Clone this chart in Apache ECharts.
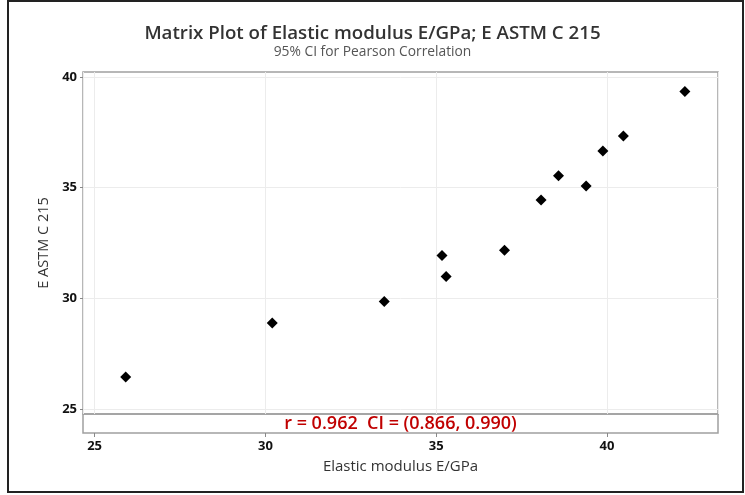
<!DOCTYPE html>
<html>
<head>
<meta charset="utf-8">
<script src="https://cdn.jsdelivr.net/npm/echarts@6/dist/echarts.min.js"></script>
<style>
html,body{margin:0;padding:0;background:#fff;}
#c{width:745px;height:495px;}
</style>
</head>
<body>
<div id="c"></div>
<script>
const titleText = 'Matrix Plot of Elastic modulus E/GPa; E ASTM C 215';
const subtitleText = '95% CI for Pearson Correlation';
const xName = 'Elastic modulus E/GPa';
const yName = 'E ASTM C 215';
const corrText = 'r = 0.962  CI = (0.866, 0.990)';
const elasticModulus = [25.91, 30.20, 33.48, 35.17, 35.29, 37.00, 38.07, 38.58, 39.39, 39.88, 40.48, 42.28];
const eAstm = [26.44, 28.88, 29.85, 31.93, 30.98, 32.17, 34.44, 35.54, 35.08, 36.66, 37.34, 39.35];
const xTicks = [25, 30, 35, 40];
const yTicks = [25, 30, 35, 40];
const xRange = [24.66, 43.25];
const yRange = [24.77, 40.23];

const font = "'Open Sans', 'Noto Sans', sans-serif";
const points = elasticModulus.map((v, i) => [v, eAstm[i]]);
const chart = echarts.init(document.getElementById('c'), null, {renderer: 'canvas'});
chart.setOption({
  animation: false,
  backgroundColor: '#fff',
  title: [{
    text: titleText,
    subtext: subtitleText,
    left: 'center',
    top: 19,
    itemGap: 2,
    textStyle: {fontFamily: font, fontSize: 18.7, fontWeight: 600, color: '#333'},
    subtextStyle: {fontFamily: font, fontSize: 13.8, color: '#555'}
  }],
  graphic: [{
    type: 'rect',
    shape: {x: 8, y: 1, width: 735, height: 491},
    style: {fill: 'none', stroke: '#222', lineWidth: 2},
    silent: true
  }, {
    type: 'text',
    x: 400.5, y: 424,
    style: {text: corrText, fill: '#c00000', font: "600 18px 'Open Sans', 'Noto Sans', sans-serif", align: 'center', verticalAlign: 'middle'},
    silent: true
  }],
  grid: [
    {left: 83, right: 27, top: 72, height: 342, show: true, borderColor: '#a0a0a0', borderWidth: 1.5, backgroundColor: 'transparent'},
    {left: 83, right: 27, top: 414, height: 19, show: true, borderColor: '#a0a0a0', borderWidth: 1.5, backgroundColor: 'transparent'}
  ],
  xAxis: [{
    gridIndex: 0, type: 'value', min: xRange[0], max: xRange[1], splitNumber: 3,
    axisLine: {show: false}, axisTick: {show: false}, axisLabel: {show: false},
    splitLine: {show: true, lineStyle: {color: '#ececec', width: 1}}
  }, {
    gridIndex: 1, type: 'value', min: xRange[0], max: xRange[1], splitNumber: 3,
    name: xName, nameLocation: 'middle', nameGap: 26,
    nameTextStyle: {fontFamily: font, fontSize: 15, color: '#333'},
    axisLine: {show: false},
    axisTick: {show: true, customValues: xTicks, length: 4, lineStyle: {color: '#888'}},
    axisLabel: {customValues: xTicks, margin: 7, fontFamily: font, fontSize: 13, fontWeight: 'bold', color: '#111'},
    splitLine: {show: false}
  }],
  yAxis: [{
    gridIndex: 0, type: 'value', min: yRange[0], max: yRange[1], splitNumber: 3,
    name: yName, nameLocation: 'middle', nameGap: 31,
    nameTextStyle: {fontFamily: font, fontSize: 14.5, color: '#333'},
    axisLine: {show: false},
    axisTick: {show: true, customValues: yTicks, length: 3, lineStyle: {color: '#888'}},
    axisLabel: {customValues: yTicks, margin: 6, fontFamily: font, fontSize: 13, fontWeight: 'bold', color: '#111'},
    splitLine: {show: true, lineStyle: {color: '#ececec', width: 1}}
  }, {
    gridIndex: 1, type: 'value', min: 0, max: 1,
    axisLine: {show: false}, axisTick: {show: false}, axisLabel: {show: false}, splitLine: {show: false}
  }],
  series: [{
    type: 'scatter',
    xAxisIndex: 0, yAxisIndex: 0,
    data: points,
    symbol: 'diamond',
    symbolSize: [11, 11],
    itemStyle: {color: '#000', opacity: 1}
  }]
});
</script>
</body>
</html>
